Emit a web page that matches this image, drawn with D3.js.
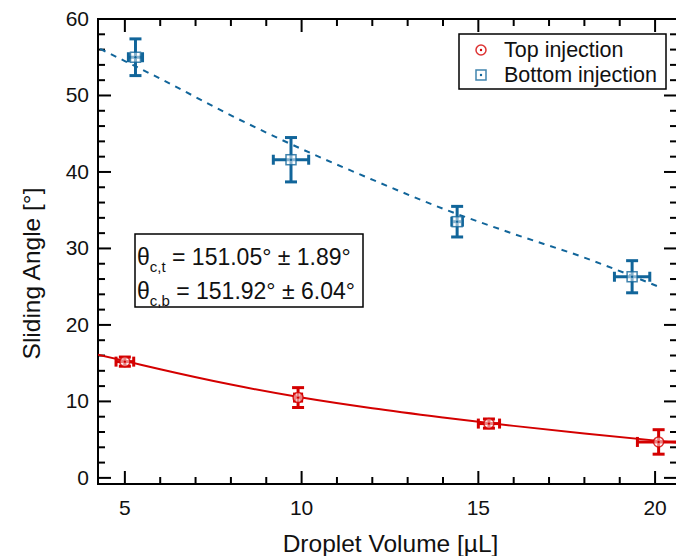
<!DOCTYPE html>
<html>
<head>
<meta charset="utf-8">
<script src="https://cdn.jsdelivr.net/npm/d3@7"></script>
<style>
  body { margin: 0; background: #fff; }
  text { font-family: "Liberation Sans", Arial, sans-serif; fill: #111; }
</style>
</head>
<body>
<div id="chart"></div>
<script>
// Data
var topVolume = [5.0, 9.9, 15.3, 20.1];
var topAngle = [15.2, 10.5, 7.1, 4.7];
var topVolumeErr = [0.25, 0.1, 0.3, 0.6];
var topAngleErr = [0.6, 1.3, 0.6, 1.6];

var bottomVolume = [5.3, 9.7, 14.4, 19.35];
var bottomAngle = [55.0, 41.6, 33.5, 26.3];
var bottomVolumeErr = [0.2, 0.5, 0.15, 0.5];
var bottomAngleErr = [2.4, 2.9, 2.0, 2.1];

// fitted curves
var topFitX = [4.24, 5, 6, 8, 10, 12, 14, 16, 18, 20.62];
var topFitY = [16.1, 15.3, 14.2, 12.2, 10.5, 9.1, 7.9, 6.8, 5.8, 4.6];
var bottomFitX = [4.3, 5, 6, 8, 10, 12, 14, 16, 18, 20.1];
var bottomFitY = [56.1, 54.5, 52.2, 47.4, 43.0, 39.0, 35.2, 31.9, 28.8, 25.0];

var xTicks = [5, 10, 15, 20];
var yTicks = [0, 10, 20, 30, 40, 50, 60];
var legendLabels = ["Top injection", "Bottom injection"];
var fitLabels = [["c,t", " = 151.05° ± 1.89°"], ["c,b", " = 151.92° ± 6.04°"]];

var red = "#d40000";
var blue = "#11659a";

var svgWidth = 676;
var svgHeight = 556;
var plot = { left: 98, right: 677, top: 19, bottom: 484 };

var svg = d3.select("#chart")
    .append("svg")
    .attr("width", svgWidth)
    .attr("height", svgHeight);

var x = d3.scaleLinear().domain([4.24, 20.62]).range([plot.left, plot.right]);
var y = d3.scaleLinear().domain([-0.8, 60]).range([plot.bottom, plot.top]);

// frame
svg.append("rect")
    .attr("x", plot.left)
    .attr("y", plot.top)
    .attr("width", plot.right - plot.left)
    .attr("height", plot.bottom - plot.top)
    .attr("fill", "none")
    .attr("stroke", "#000")
    .attr("stroke-width", 2);

// ticks pointing inwards on all four sides
var xMinor = d3.range(5, 21, 1);
var yMinor = d3.range(0, 61, 2);
function tickLen(v, step) { return v % step === 0 ? 13 : 7; }

var ticks = svg.append("g").attr("stroke", "#000").attr("stroke-width", 2);
xMinor.forEach(function (v) {
    var L = tickLen(v, 5);
    ticks.append("line").attr("x1", x(v)).attr("x2", x(v)).attr("y1", plot.bottom).attr("y2", plot.bottom - L);
    ticks.append("line").attr("x1", x(v)).attr("x2", x(v)).attr("y1", plot.top).attr("y2", plot.top + L);
});
yMinor.forEach(function (v) {
    var L = tickLen(v, 10);
    ticks.append("line").attr("y1", y(v)).attr("y2", y(v)).attr("x1", plot.left).attr("x2", plot.left + L);
    ticks.append("line").attr("y1", y(v)).attr("y2", y(v)).attr("x1", plot.right).attr("x2", plot.right - L);
});

// tick labels
svg.append("g").selectAll("text")
    .data(xTicks)
    .enter()
    .append("text")
    .attr("x", d => x(d))
    .attr("y", plot.bottom + 31)
    .attr("text-anchor", "middle")
    .style("font-size", "21px")
    .text(d => d);
svg.append("g").selectAll("text")
    .data(yTicks)
    .enter()
    .append("text")
    .attr("x", plot.left - 9)
    .attr("y", d => y(d) + 7)
    .attr("text-anchor", "end")
    .style("font-size", "21px")
    .text(d => d);

// axis titles
svg.append("text")
    .attr("x", (plot.left + plot.right) / 2 + 3)
    .attr("y", 552)
    .attr("text-anchor", "middle")
    .style("font-size", "24.5px")
    .text("Droplet Volume [µL]");
svg.append("text")
    .attr("transform", "translate(40," + ((plot.top + plot.bottom) / 2 + 22) + ") rotate(-90)")
    .attr("text-anchor", "middle")
    .style("font-size", "24.5px")
    .text("Sliding Angle [°]");

// clip to plot area
svg.append("clipPath").attr("id", "clip")
    .append("rect")
    .attr("x", plot.left).attr("y", plot.top)
    .attr("width", plot.right - plot.left).attr("height", plot.bottom - plot.top);
var inner = svg.append("g").attr("clip-path", "url(#clip)");

// fit curves
var line = d3.line()
    .x(d => x(d[0]))
    .y(d => y(d[1]))
    .curve(d3.curveMonotoneX);
inner.append("path")
    .datum(topFitX.map((v, i) => [v, topFitY[i]]))
    .attr("d", line)
    .attr("fill", "none")
    .attr("stroke", red)
    .attr("stroke-width", 2);
inner.append("path")
    .datum(bottomFitX.map((v, i) => [v, bottomFitY[i]]))
    .attr("d", line)
    .attr("fill", "none")
    .attr("stroke", blue)
    .attr("stroke-width", 2)
    .attr("stroke-dasharray", "6,6");

// error bars + markers
function drawSeries(vx, vy, ex, ey, color, shape) {
    var g = inner.append("g");
    vx.forEach(function (v, i) {
        var cx = x(v), cy = y(vy[i]);
        var x0 = x(v - ex[i]), x1 = x(v + ex[i]);
        var y0 = y(vy[i] - ey[i]), y1 = y(vy[i] + ey[i]);
        var e = g.append("g").attr("stroke", color).attr("stroke-width", 3);
        e.append("line").attr("x1", cx).attr("x2", cx).attr("y1", y0).attr("y2", y1);
        e.append("line").attr("x1", cx - 6).attr("x2", cx + 6).attr("y1", y0).attr("y2", y0);
        e.append("line").attr("x1", cx - 6).attr("x2", cx + 6).attr("y1", y1).attr("y2", y1);
        e.append("line").attr("x1", x0).attr("x2", x1).attr("y1", cy).attr("y2", cy);
        e.append("line").attr("x1", x0).attr("x2", x0).attr("y1", cy - 5).attr("y2", cy + 5);
        e.append("line").attr("x1", x1).attr("x2", x1).attr("y1", cy - 5).attr("y2", cy + 5);
        drawMarker(g, cx, cy, color, shape);
    });
}
function drawMarker(g, cx, cy, color, shape) {
    if (shape === "circle") {
        g.append("circle").attr("cx", cx).attr("cy", cy).attr("r", 5)
            .attr("fill", "#fff").attr("fill-opacity", 0.5)
            .attr("stroke", color).attr("stroke-width", 1.5).attr("stroke-opacity", 0.8);
    } else {
        g.append("rect").attr("x", cx - 5).attr("y", cy - 5).attr("width", 10).attr("height", 10)
            .attr("fill", "#fff").attr("fill-opacity", 0.5)
            .attr("stroke", color).attr("stroke-width", 1.5).attr("stroke-opacity", 0.8);
    }
    g.append("circle").attr("cx", cx).attr("cy", cy).attr("r", 1.2).attr("fill", color);
}
drawSeries(topVolume, topAngle, topVolumeErr, topAngleErr, red, "circle");
drawSeries(bottomVolume, bottomAngle, bottomVolumeErr, bottomAngleErr, blue, "square");

// legend
var legend = svg.append("g");
legend.append("rect")
    .attr("x", 459).attr("y", 34).attr("width", 207).attr("height", 55)
    .attr("fill", "#fff").attr("stroke", "#000").attr("stroke-width", 1.5);
[red, blue].forEach(function (c, i) {
    drawMarker(legend, 481, 50 + i * 25, c, i === 0 ? "circle" : "square");
    legend.append("text")
        .attr("x", 504)
        .attr("y", 57 + i * 25)
        .style("font-size", "21.5px")
        .text(legendLabels[i]);
});

// contact angle box
var box = svg.append("g");
box.append("rect")
    .attr("x", 135).attr("y", 234).attr("width", 228).attr("height", 73)
    .attr("fill", "#fff").attr("stroke", "#000").attr("stroke-width", 1.5);
fitLabels.forEach(function (f, i) {
    var t = box.append("text")
        .attr("x", 137)
        .attr("y", 265 + i * 34)
        .style("font-size", "23px");
    t.append("tspan").text("θ");
    t.append("tspan").attr("dy", 7).style("font-size", "15px").text(f[0]);
    t.append("tspan").attr("dy", -7).text(f[1]);
});
</script>
</body>
</html>
